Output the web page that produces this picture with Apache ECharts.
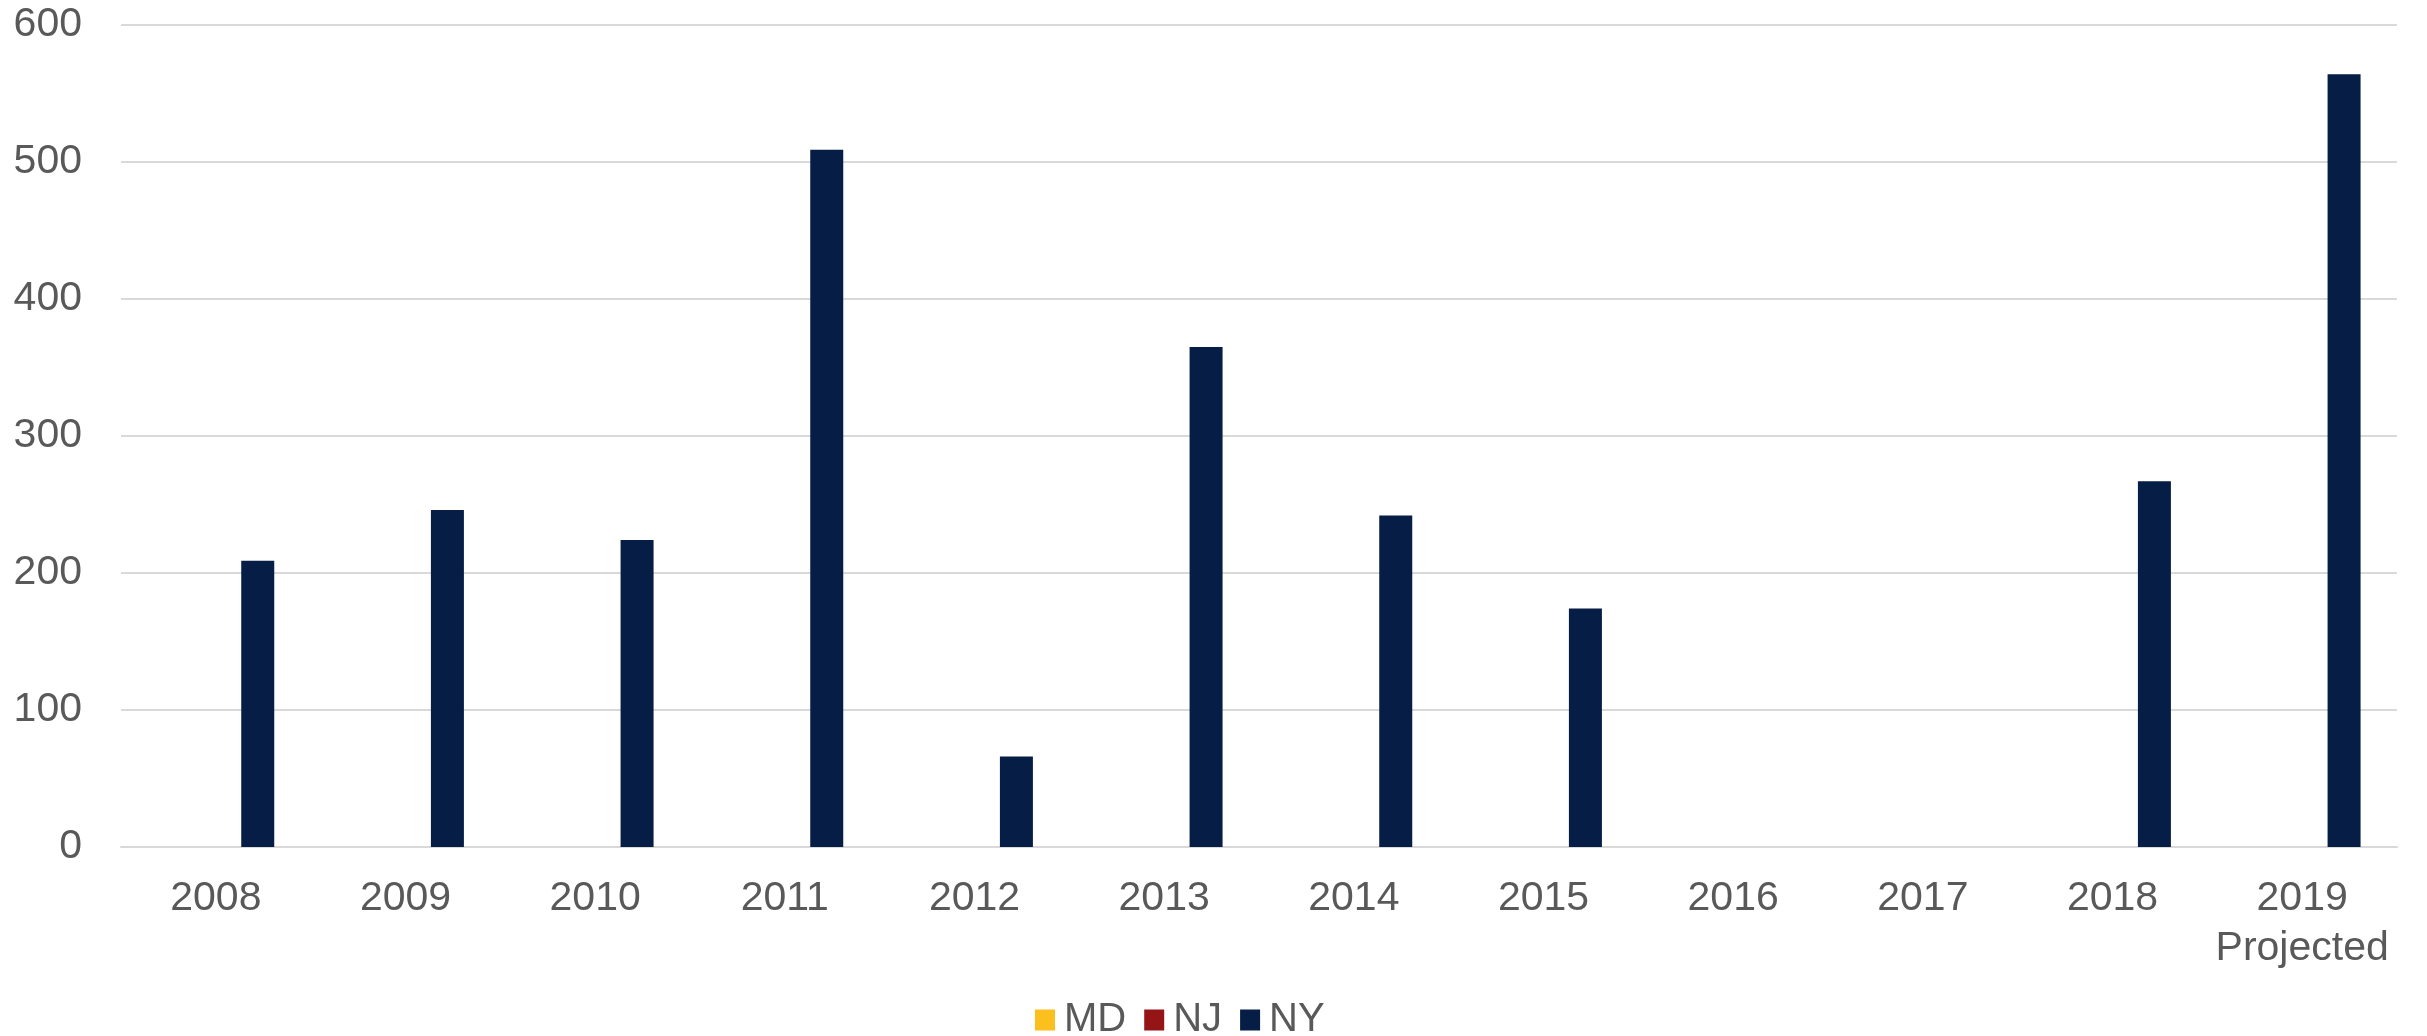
<!DOCTYPE html>
<html>
<head>
<meta charset="utf-8">
<script src="https://cdn.jsdelivr.net/npm/echarts@6/dist/echarts.min.js"></script>
<style>
html,body{margin:0;padding:0;background:#fff;}
#chart{width:2427px;height:1036px;}
</style>
</head>
<body>
<div id="chart"></div>
<script>
const categories = ['2008','2009','2010','2011','2012','2013','2014','2015','2016','2017','2018','2019\nProjected'];
const seriesNames = ['MD','NJ','NY'];
const mdValues = [0,0,0,0,0,0,0,0,0,0,0,0];
const njValues = [0,0,0,0,0,0,0,0,0,0,0,0];
const nyValues = [209,246,224,509,66,365,242,174,0,0,267,564];
const colors = ['#FBC01E','#951517','#061D45'];
const yMin = 0, yMax = 600, yInterval = 100;

const font = '"Liberation Sans", Arial, sans-serif';
const textColor = '#595959';
const chart = echarts.init(document.getElementById('chart'));
const values = [mdValues, njValues, nyValues];
const digitW = 41 * 0.556;
chart.setOption({
  animation: false,
  color: colors,
  grid: {left: 121, right: 30, top: 25, bottom: 189, containLabel: false, outerBoundsMode: 'none'},
  legend: {
    data: seriesNames,
    left: 1035, top: 1000,
    padding: 0,
    itemWidth: 20, itemHeight: 21, itemGap: 18,
    icon: 'rect',
    textStyle: {fontFamily: font, fontSize: 40, color: textColor, padding: [0,0,0,4]}
  },
  xAxis: {
    type: 'category',
    data: categories,
    axisLine: {show: true, lineStyle: {color: '#d9d9d9', width: 2}},
    axisTick: {show: false},
    axisLabel: {fontFamily: font, fontSize: 41, color: textColor, margin: 27, lineHeight: 50, interval: 0}
  },
  yAxis: {
    type: 'value',
    min: yMin, max: yMax, interval: yInterval,
    axisLine: {show: false},
    axisTick: {show: false},
    splitLine: {lineStyle: {color: '#d9d9d9', width: 2}},
    axisLabel: {
      margin: 39, align: 'right',
      fontFamily: font, fontSize: 41, color: textColor,
      formatter: v => {
        const s = String(v);
        const n = 3 - s.length;
        return n > 0 ? '{p' + n + '|}{a|' + s + '}' : '{a|' + s + '}';
      },
      rich: {
        a: {fontFamily: font, fontSize: 41, color: textColor},
        p1: {width: digitW, fontSize: 41},
        p2: {width: digitW * 2, fontSize: 41}
      }
    }
  },
  series: seriesNames.map((n, i) => ({
    name: n,
    type: 'bar',
    data: values[i],
    barWidth: 33,
    barGap: '27%',
    itemStyle: {color: colors[i]}
  }))
});
</script>
</body>
</html>
